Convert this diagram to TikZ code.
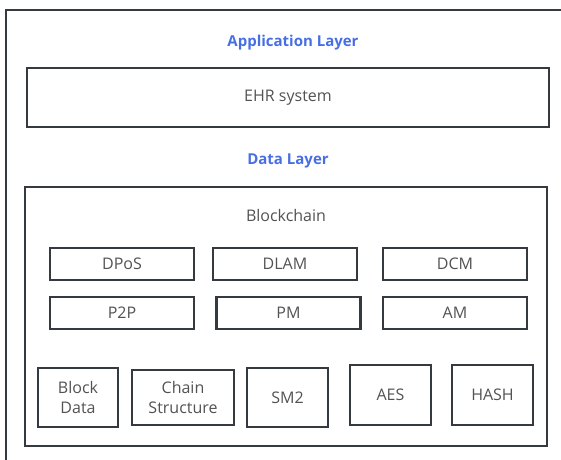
\documentclass[tikz,border=0pt]{standalone}
\usepackage{fontspec}
\setmainfont{Open Sans}
\usetikzlibrary{positioning}
\definecolor{layerblue}{RGB}{72,110,228}
\definecolor{boxline}{RGB}{52,58,64}
\definecolor{labelgray}{RGB}{82,82,82}
\tikzstyle{module} = [draw=boxline, line width=2.2pt, outer sep=0pt, inner sep=0pt, text=labelgray, align=center, font=\fontsize{16}{20}\selectfont]
\tikzstyle{layer} = [text=layerblue, font=\fontsize{15}{18}\selectfont\bfseries]
\tikzstyle{caption} = [text=labelgray, font=\fontsize{16}{20}\selectfont]

\begin{document}
\begin{tikzpicture}[x=1pt,y=-1pt]
\useasboundingbox (0,0) rectangle (561,459);
\clip (0,0) rectangle (561,459);


%%% %%%
% Frame
%%% %%%

\node[draw=boxline, line width=2pt, outer sep=0pt, minimum width=620pt, minimum height=520pt, anchor=north west] (Frame) at (6,10) {};


%%% %%%
% Application layer
%%% %%%

\node[layer] (AppTitle) at (293,43) {Application Layer};
\node[module, minimum width=522pt, minimum height=59pt] (EHR) at (288,97.5) {EHR system};


%%% %%%
% Data layer
%%% %%%

\node[layer] (DataTitle) at (288,161) {Data Layer};
\node[module, minimum width=522pt, minimum height=259pt] (BC) at (286,316.5) {};
\node[caption] (BCTitle) at (286,215) {Blockchain};

\foreach \x/\i [count=\n] in
{122/DPoS,285/DLAM,455/DCM}
\node[module, minimum width=144pt, minimum height=32pt] (BCA\n) at (\x,264) {\i};

\foreach \x/\i [count=\n] in
{122/P2P,288.5/PM,455/AM}
\node[module, minimum width=144pt, minimum height=32pt] (BCB\n) at (\x,313) {\i};

\foreach \x/\y/\w/\h/\i [count=\n] in
{78/397.5/80/59/{Block\\Data},183/397.5/102/55/{Chain\\Structure},287.5/397.5/81/59/SM2,390.5/395/81/60/AES,492.5/395/81/60/HASH}
\node[module, minimum width=\w pt, minimum height=\h pt] (BCC\n) at (\x,\y) {\i};

\end{tikzpicture}
\end{document}
